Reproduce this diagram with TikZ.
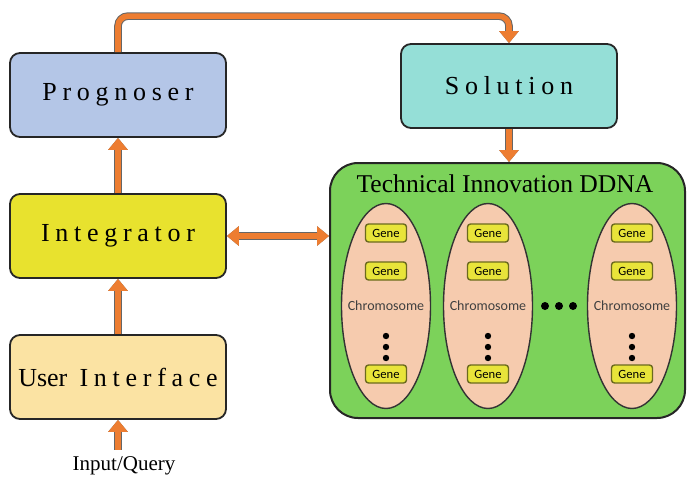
\documentclass[tikz,border=0pt]{standalone}
\usepackage{fontspec}
\setmainfont{Liberation Serif}
\newfontfamily\spacedfont[LetterSpace=22]{Liberation Serif}
\newfontfamily\genefont{Carlito}
\usetikzlibrary{arrows.meta,shapes.geometric}

\definecolor{progblue}{HTML}{B4C6E7}
\definecolor{solteal}{HTML}{95DFD7}
\definecolor{integyellow}{HTML}{E8E22E}
\definecolor{uiyellow}{HTML}{FBE3A3}
\definecolor{ddnagreen}{HTML}{7CD25A}
\definecolor{chrompeach}{HTML}{F6CBAE}
\definecolor{geneyellow}{HTML}{E8E43A}
\definecolor{geneborder}{HTML}{6B6A1E}
\definecolor{arroworange}{HTML}{ED7D31}

\begin{document}
\begin{tikzpicture}[x=0.5pt,y=-0.5pt,
  >={Triangle[length=6pt,width=9.5pt]},
  box/.style={draw=black!85, line width=0.9pt, rounded corners=5pt,
    minimum width=108pt, minimum height=42pt, inner sep=0pt,
    font=\spacedfont\fontsize{13}{15}\selectfont},
  chrom/.style={ellipse, draw=black!80, line width=0.7pt, fill=chrompeach,
    minimum width=44.5pt, minimum height=102.5pt, inner sep=0pt},
  chromtext/.style={inner sep=0pt, font=\genefont\fontsize{7}{8}\selectfont,
    text=black!75},
  gene/.style={draw=geneborder, line width=0.7pt, fill=geneyellow,
    rounded corners=1.5pt, minimum width=20.5pt, minimum height=9pt,
    inner sep=0pt, font=\genefont\fontsize{6.3}{7}\selectfont},
  flow/.style={->, draw=arroworange, line width=2.8pt,
    preaction={draw=black!60, line width=3.8pt}}]

  \useasboundingbox (0,0) rectangle (687,478);

  % Left column
  \node[box, fill=progblue] (prog) at (118,95) {Prognoser};
  \node[box, fill=integyellow] (integ) at (118,236) {Integrator};
  \node[box, fill=uiyellow] (ui) at (118,377) {{\rmfamily User} Interface};
  \node[font=\fontsize{10.5}{12}\selectfont] (input) at (124,466) {Input/Query};

  % Solution
  \node[box, fill=solteal] (sol) at (509,86) {Solution};

  % DDNA
  \node[draw=black!85, line width=1pt, fill=ddnagreen, rounded corners=14pt,
    minimum width=177.5pt, minimum height=127.5pt] (ddna) at (507.5,290.5) {};
  \node[font=\fontsize{12.8}{14}\selectfont] (title) at (505,184) {Technical Innovation DDNA};

  % Chromosomes
  \foreach \c/\x in {1/386,2/488,3/632}{
    \node[chrom] (chr\c) at (\x,306) {};
    \node[chromtext] (chr\c-text) at (chr\c) {Chromosome};
    \node[gene] (gene\c-a) at (\x,233) {Gene};
    \node[gene] (gene\c-b) at (\x,271) {Gene};
    \node[gene] (gene\c-n) at (\x,374) {Gene};
    \foreach \y in {336,347,358}
      \fill (\x,\y) circle (1.6pt);
  }
  \foreach \x in {545,559,573}
    \fill (\x,306) circle (2pt);

  % Arrows
  \draw[flow, rounded corners=5pt] (prog.north) -- ++(0,-36) -| (sol.north);
  \draw[flow] (sol.south) -- (sol.south |- ddna.north);
  \draw[flow, <->] (integ.east) -- (integ.east -| ddna.west);
  \draw[flow] (integ.north) -- (prog.south);
  \draw[flow] (ui.north) -- (integ.south);
  \draw[flow] (ui.south |- input.north) -- (ui.south);

\end{tikzpicture}
\end{document}
